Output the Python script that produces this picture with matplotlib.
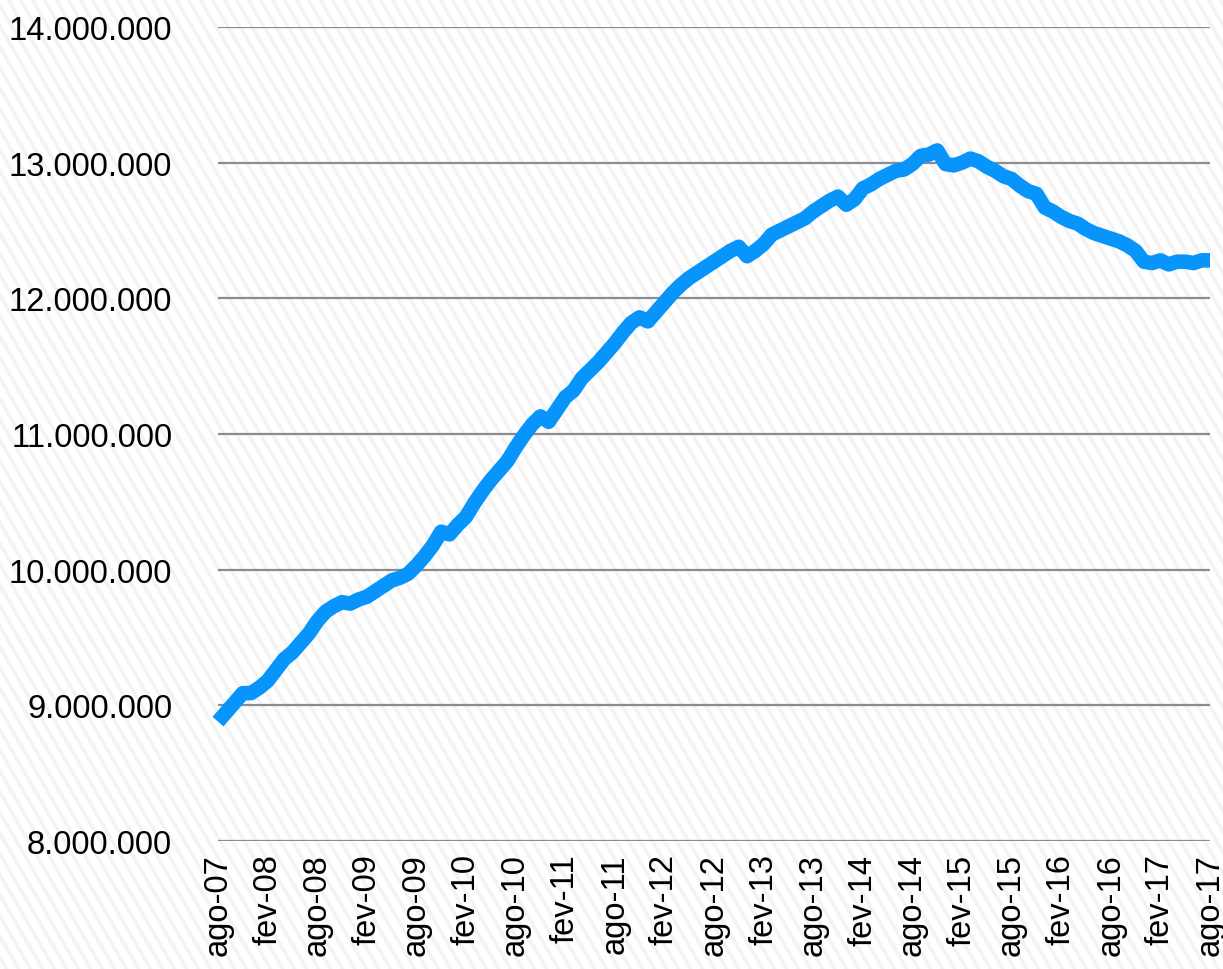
#!/usr/bin/env python3
"""Monthly series ago-07 .. ago-17, line chart with striped background."""

import numpy as np
import matplotlib
matplotlib.use("Agg")
import matplotlib.pyplot as plt
from matplotlib.lines import Line2D
from matplotlib.ticker import FuncFormatter

# values in millions, one per month from ago-07 to ago-17
values = [
    8.88, 8.95, 9.02, 9.09, 9.09, 9.13, 9.18, 9.26, 9.34, 9.39,
    9.46, 9.53, 9.62, 9.69, 9.73, 9.76, 9.75, 9.78, 9.80, 9.84,
    9.88, 9.92, 9.94, 9.97, 10.03, 10.10, 10.18, 10.28, 10.26, 10.33,
    10.39, 10.49, 10.58, 10.66, 10.73, 10.80, 10.90, 10.99, 11.07, 11.13,
    11.09, 11.18, 11.27, 11.32, 11.41, 11.47, 11.53, 11.60, 11.67, 11.75,
    11.82, 11.86, 11.83, 11.90, 11.97, 12.04, 12.10, 12.15, 12.19, 12.23,
    12.27, 12.31, 12.35, 12.38, 12.31, 12.35, 12.40, 12.47, 12.50, 12.53,
    12.56, 12.59, 12.64, 12.68, 12.72, 12.75, 12.69, 12.73, 12.81, 12.84,
    12.88, 12.91, 12.94, 12.95, 12.99, 13.05, 13.06, 13.09, 12.99, 12.98,
    13.00, 13.03, 13.01, 12.97, 12.94, 12.90, 12.88, 12.83, 12.79, 12.77,
    12.67, 12.64, 12.60, 12.57, 12.55, 12.51, 12.48, 12.46, 12.44, 12.42,
    12.39, 12.35, 12.27, 12.26, 12.28, 12.25, 12.27, 12.27, 12.26, 12.28,
    12.28,
]
tick_labels = [
    "ago-07", "fev-08", "ago-08", "fev-09", "ago-09", "fev-10", "ago-10",
    "fev-11", "ago-11", "fev-12", "ago-12", "fev-13", "ago-13", "fev-14",
    "ago-14", "fev-15", "ago-15", "fev-16", "ago-16", "fev-17", "ago-17",
]
y_ticks = [8, 9, 10, 11, 12, 13, 14]

W, H = 1223, 970
plt.rcParams['font.family'] = ['Liberation Sans', 'DejaVu Sans']

fig = plt.figure(figsize=(W / 100, H / 100), dpi=100)
fig.patch.set_facecolor('white')

# diagonal stripes over the whole background
for x0 in np.arange(-700, W + 20, 12):
    fig.add_artist(Line2D([x0 / W, (x0 + 0.58 * H) / W], [1, 0],
                          transform=fig.transFigure, color='#f3f3f3',
                          lw=2.5, zorder=0))

ax = fig.add_axes([218 / W, 1 - 842 / H, (1210 - 218) / W, (842 - 28) / H])
ax.set_facecolor('none')

months = np.arange(len(values))
ax.plot(months, values, color='#0794fb', lw=10.5, solid_capstyle='butt',
        solid_joinstyle='round', zorder=3, clip_on=False)

ax.set_xlim(0, len(values) - 1)
ax.set_ylim(8, 14)
ax.set_yticks(y_ticks)
ax.yaxis.set_major_formatter(
    FuncFormatter(lambda v, _: f"{int(round(v * 1e6)):,}".replace(',', '.')))
ax.set_xticks(months[::6])
ax.set_xticklabels(tick_labels, rotation=90, va='top', ha='center')

ax.grid(axis='y', color='#8c8c8c', lw=1.6)
ax.set_axisbelow(True)
for s in ax.spines.values():
    s.set_visible(False)
ax.tick_params(axis='both', length=0, labelsize=23.5)
ax.tick_params(axis='y', pad=33)
ax.tick_params(axis='x', pad=9)

fig.savefig('out.png', dpi=100)
